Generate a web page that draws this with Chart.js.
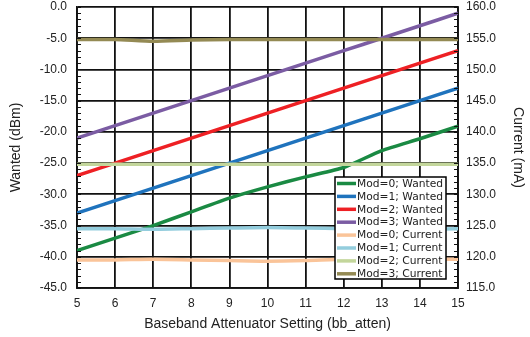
<!DOCTYPE html>
<html>
<head>
<meta charset="utf-8">
<script src="https://cdn.jsdelivr.net/npm/chart.js@4"></script>
<style>
  html, body { margin: 0; padding: 0; background: #fff; }
  #wrap { width: 530px; height: 337px; }
</style>
</head>
<body>
<div id="wrap"><canvas id="chart" width="530" height="337"></canvas></div>
<script>
// bb_atten settings
const atten = [5, 6, 7, 8, 9, 10, 11, 12, 13, 14, 15];

// Wanted output (dBm), left axis
const wanted0 = [-39.0, -37.0, -35.0, -32.8, -30.6, -28.8, -27.2, -25.7, -23.0, -21.1, -19.1];
const wanted1 = [-33.0, -31.0, -29.0, -27.0, -25.0, -23.0, -21.0, -19.0, -17.0, -15.0, -13.0];
const wanted2 = [-27.0, -25.0, -23.0, -21.0, -19.0, -17.0, -15.0, -13.0, -11.0, -9.0, -7.0];
const wanted3 = [-21.0, -19.0, -17.0, -15.0, -13.0, -11.0, -9.0, -7.0, -5.0, -3.0, -1.0];

// Supply current (mA), right axis
const current0 = [119.5, 119.5, 119.6, 119.5, 119.4, 119.3, 119.4, 119.6, 119.6, 119.6, 119.6];
const current1 = [124.5, 124.5, 124.4, 124.5, 124.6, 124.7, 124.6, 124.5, 124.4, 124.4, 124.5];
const current2 = [134.8, 134.8, 134.8, 134.8, 134.8, 134.8, 134.8, 134.8, 134.8, 134.8, 134.8];
const current3 = [154.8, 154.8, 154.5, 154.7, 154.8, 154.8, 154.8, 154.8, 154.8, 154.8, 154.8];

const seriesNames = ['Mod=0; Wanted', 'Mod=1; Wanted', 'Mod=2; Wanted', 'Mod=3; Wanted',
                     'Mod=0; Current', 'Mod=1; Current', 'Mod=2; Current', 'Mod=3; Current'];
const seriesColors = ['#1a8a43', '#1f73bd', '#ee2024', '#7b5ca3',
                      '#fac499', '#93cddd', '#c3d69b', '#948a54'];

const FONT = "'Liberation Sans', Arial, sans-serif";
const LEG_FONT = "'DejaVu Sans', sans-serif";

function mk(i, data, axis, order) {
  return {
    label: seriesNames[i],
    data: data,
    yAxisID: axis,
    borderColor: seriesColors[i],
    backgroundColor: seriesColors[i],
    borderWidth: 3.5,
    pointRadius: 0,
    tension: 0.2,
    fill: false,
    order: order
  };
}

// keep the plot area fixed: no automatic label overhang padding
function fixV(width) {
  return s => { s.width = width; s.paddingTop = 0; s.paddingBottom = 0; };
}

// minor ticks on the inside of both value axes + legend box inside the plot
const extrasPlugin = {
  id: 'extras',
  afterDatasetsDraw(chart) {
    const ctx = chart.ctx;
    const ca = chart.chartArea;
    const yl = chart.scales.y;
    const yr = chart.scales.y2;
    ctx.save();
    ctx.strokeStyle = '#111';
    ctx.lineWidth = 1;
    for (let v = -45; v <= 0; v += 1) {
      const y = Math.round(yl.getPixelForValue(v)) + 0.5;
      ctx.beginPath(); ctx.moveTo(ca.left, y); ctx.lineTo(ca.left + 4, y); ctx.stroke();
    }
    for (let v = 115; v <= 160; v += 1) {
      const y = Math.round(yr.getPixelForValue(v)) + 0.5;
      ctx.beginPath(); ctx.moveTo(ca.right - 4, y); ctx.lineTo(ca.right, y); ctx.stroke();
    }

    // legend
    const bx = 335, by = 177, bw = 111, bh = 102;
    ctx.fillStyle = '#fff';
    ctx.fillRect(bx, by, bw, bh);
    ctx.strokeStyle = '#000';
    ctx.lineWidth = 1.5;
    ctx.strokeRect(bx, by, bw, bh);
    ctx.font = '10.7px ' + LEG_FONT;
    ctx.textBaseline = 'middle';
    seriesNames.forEach((name, i) => {
      const y = by + 6.5 + i * 12.9;
      ctx.strokeStyle = seriesColors[i];
      ctx.lineWidth = 3.5;
      ctx.beginPath(); ctx.moveTo(bx + 2, y); ctx.lineTo(bx + 21, y); ctx.stroke();
      ctx.fillStyle = '#222';
      ctx.fillText(name, bx + 22, y + 0.5);
    });
    ctx.restore();
  }
};

new Chart(document.getElementById('chart'), {
  type: 'line',
  data: {
    labels: atten,
    datasets: [
      mk(0, wanted0, 'y', 2), mk(1, wanted1, 'y', 2), mk(2, wanted2, 'y', 2), mk(3, wanted3, 'y', 2),
      mk(4, current0, 'y2', 1), mk(5, current1, 'y2', 1), mk(6, current2, 'y2', 1), mk(7, current3, 'y2', 1)
    ]
  },
  options: {
    responsive: false,
    animation: false,
    layout: { padding: { top: 7, left: 0, right: 0, bottom: 0 } },
    plugins: { legend: { display: false }, tooltip: { enabled: false } },
    scales: {
      x: {
        type: 'linear',
        min: 5, max: 15,
        ticks: { stepSize: 1, color: '#222', font: { family: FONT, size: 12 }, padding: 8 },
        grid: { color: '#111', lineWidth: 1.8, drawTicks: false },
        border: { color: '#111', width: 1.8 },
        title: { display: true, text: 'Baseband Attenuator Setting (bb_atten)', color: '#222',
                 font: { family: FONT, size: 14 }, padding: { top: 6 } },
        afterFit: s => { s.height = 49; s.paddingLeft = 0; s.paddingRight = 0; }
      },
      y: {
        position: 'left',
        min: -45, max: 0,
        ticks: { stepSize: 5, color: '#222', font: { family: FONT, size: 12 }, padding: 10,
                 callback: v => v.toFixed(1) },
        grid: { color: '#111', lineWidth: 1.8, drawTicks: false },
        border: { color: '#111', width: 1.8 },
        title: { display: true, text: 'Wanted (dBm)', color: '#222',
                 font: { family: FONT, size: 14 }, padding: { top: 8, bottom: 4 } },
        afterFit: fixV(77)
      },
      y2: {
        position: 'right',
        min: 115, max: 160,
        ticks: { stepSize: 5, color: '#222', font: { family: FONT, size: 12 }, padding: 8,
                 callback: v => v.toFixed(1) },
        grid: { drawOnChartArea: false, drawTicks: false },
        border: { color: '#111', width: 1.8 },
        title: { display: true, text: 'Current (mA)', color: '#222',
                 font: { family: FONT, size: 14 }, padding: { top: 4 } },
        afterFit: fixV(72)
      }
    }
  },
  plugins: [extrasPlugin]
});
</script>
</body>
</html>
